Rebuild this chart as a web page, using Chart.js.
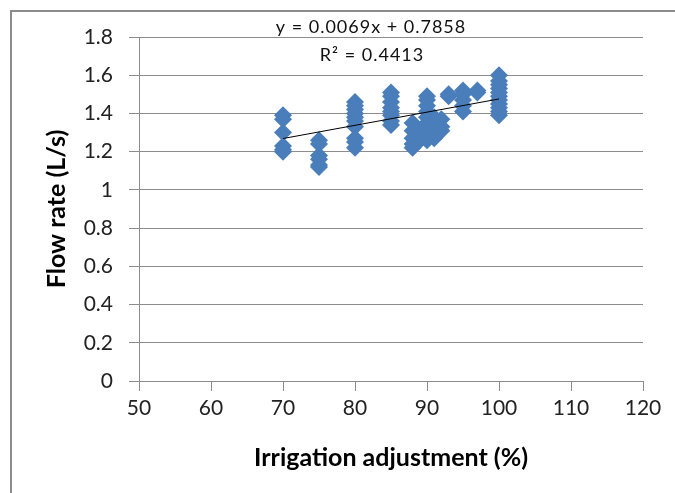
<!DOCTYPE html>
<html>
<head>
<meta charset="utf-8">
<script src="https://cdn.jsdelivr.net/npm/chart.js@4"></script>
<style>
  body { margin: 0; background: #fff; }
  #wrap { position: relative; width: 675px; height: 493px; }
  #frame { position: absolute; left: 10px; top: 10px; right: -5px; bottom: -5px; border-left: 2px solid #8c8c8c; border-top: 2px solid #8c8c8c; }
  canvas { position: absolute; left: 0; top: 0; }
</style>
</head>
<body>
<div id="wrap">
  <div id="frame"></div>
  <canvas id="flowChart" width="675" height="493"></canvas>
</div>
<script>
// irrigation adjustment (%) and measured flow rate (L/s), one list per setting
const adj70 = [1.39, 1.37, 1.30, 1.23, 1.21, 1.20];
const adj75 = [1.26, 1.24, 1.18, 1.16, 1.13, 1.12];
const adj80 = [1.46, 1.44, 1.42, 1.40, 1.38, 1.36, 1.33, 1.27, 1.25, 1.22];
const adj85 = [1.51, 1.49, 1.46, 1.43, 1.41, 1.39, 1.36, 1.34];
const adj88 = [1.35, 1.31, 1.27, 1.24, 1.22];
const adj89 = [1.30, 1.26];
const adj90 = [1.49, 1.47, 1.44, 1.41, 1.38, 1.35, 1.32, 1.29, 1.26];
const adj91 = [1.38, 1.34, 1.30, 1.27];
const adj92 = [1.37, 1.33, 1.31];
const adj93 = [1.50, 1.49];
const adj95 = [1.52, 1.50, 1.47, 1.44, 1.41];
const adj97 = [1.52, 1.51];
const adj100 = [1.60, 1.57, 1.55, 1.53, 1.51, 1.49, 1.47, 1.45, 1.43, 1.41, 1.39];

const groups = [
    [70, adj70], [75, adj75], [80, adj80], [85, adj85], [88, adj88], [89, adj89],
    [90, adj90], [91, adj91], [92, adj92], [93, adj93], [95, adj95], [97, adj97], [100, adj100]
];

// linear fit as printed on the chart
const slope = 0.0069;
const intercept = 0.7858;
const rSquared = '0.4413';
const fitRange = [70, 100];

const xTicks = [50, 60, 70, 80, 90, 100, 110, 120];
const yTicks = [0, 0.2, 0.4, 0.6, 0.8, 1, 1.2, 1.4, 1.6, 1.8];

const GRID = '#8c8c8c';
const MARKER = '#4a7ebb';

const points = [];
groups.forEach(([x, ys]) => ys.forEach(y => points.push({ x: x, y: y })));
const fitLine = fitRange.map(x => ({ x: x, y: slope * x + intercept }));

// equation + R² text above the trend
const equationLabel = {
    id: 'equationLabel',
    afterDraw(chart) {
        const ctx = chart.ctx;
        ctx.save();
        ctx.fillStyle = '#111';
        ctx.font = '18px Lato, sans-serif';
        ctx.letterSpacing = '1px';
        ctx.textAlign = 'center';
        ctx.textBaseline = 'middle';
        ctx.fillText('y = ' + slope + 'x + ' + intercept, 371, 27);
        ctx.fillText('R\u00b2 = ' + rSquared, 372, 55);
        ctx.restore();
    }
};

new Chart(document.getElementById('flowChart'), {
    type: 'scatter',
    data: {
        datasets: [
            {
                label: 'Flow rate',
                data: points,
                pointStyle: 'rectRot',
                pointRadius: 9,
                pointHoverRadius: 9,
                backgroundColor: MARKER,
                borderColor: MARKER,
                borderWidth: 0,
                order: 2
            },
            {
                type: 'line',
                label: 'Linear fit',
                data: fitLine,
                borderColor: '#000',
                borderWidth: 1,
                pointRadius: 0,
                fill: false,
                order: 1
            }
        ]
    },
    options: {
        responsive: false,
        animation: false,
        events: [],
        layout: { padding: { left: 0, right: 32, top: 37, bottom: 0 } },
        plugins: { legend: { display: false }, tooltip: { enabled: false } },
        scales: {
            x: {
                type: 'linear',
                min: 50, max: 120,
                afterBuildTicks: s => { s.ticks = xTicks.map(v => ({ value: v })); },
                afterFit: s => { s.height = 112; },
                grid: { display: true, drawOnChartArea: false, drawTicks: true, tickLength: 10, color: GRID },
                border: { display: true, color: GRID, width: 1 },
                ticks: { color: '#222', font: { family: 'Lato', size: 21 }, padding: 5, maxRotation: 0 },
                title: {
                    display: true,
                    text: 'Irrigation adjustment (%)',
                    color: '#000',
                    font: { family: 'Lato', size: 25, weight: 'bold' },
                    padding: { top: 0, bottom: 20 }
                }
            },
            y: {
                min: 0, max: 1.8,
                afterBuildTicks: s => { s.ticks = yTicks.map(v => ({ value: v })); },
                afterFit: s => { s.width = 139; },
                grid: { color: GRID, drawTicks: true, tickLength: 10 },
                border: { display: true, color: GRID, width: 1 },
                ticks: {
                    color: '#222',
                    font: { family: 'Lato', size: 21 },
                    padding: 16,
                    callback: v => String(Number(v.toFixed(1)))
                },
                title: {
                    display: true,
                    text: 'Flow rate (L/s)',
                    color: '#000',
                    font: { family: 'Lato', size: 25, weight: 'bold' },
                    padding: { top: 42, bottom: 0 }
                }
            }
        }
    },
    plugins: [equationLabel]
});
</script>
</body>
</html>
